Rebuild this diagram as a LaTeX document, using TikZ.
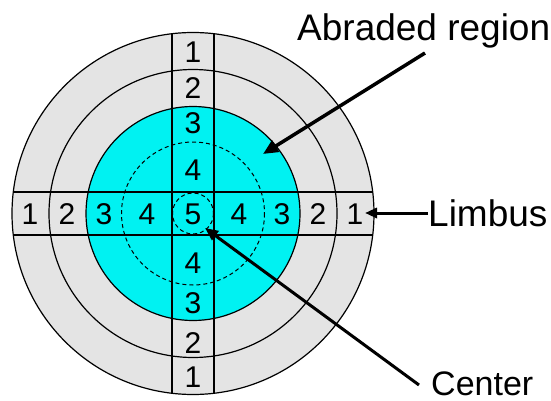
\documentclass[tikz,border=0pt]{standalone}
\usepackage{fontspec}
\setmainfont{Liberation Sans}
\usetikzlibrary{arrows.meta}
\definecolor{ringgray}{RGB}{228,228,228}
\definecolor{abrcyan}{RGB}{0,242,242}
\tikzset{
  ring/.style={draw=black, line width=1.2pt},
  dashring/.style={draw=black, line width=1pt, dash pattern=on 4pt off 3pt},
  num/.style={font=\fontsize{30}{32}\selectfont, inner sep=0pt, anchor=center},
  lbl/.style={font=\fontsize{37}{40}\selectfont, inner sep=0pt, anchor=base west, text depth=0pt},
  arr/.style={line width=3.5pt, -{Triangle[length=15pt,width=13pt]}},
}
\begin{document}
\begin{tikzpicture}[x=1pt,y=-1pt]
\useasboundingbox (0,0) rectangle (551,401);
\coordinate (c) at (193,213.5);
% rings
\fill[ringgray] (c) circle (181);
\draw[ring] (c) circle (144);
\fill[abrcyan] (c) circle (107);
\draw[ring] (c) circle (107);
\draw[dashring] (c) circle (71.5);
\draw[dashring] (c) circle (20.5);
% band lines clipped to outer circle
\begin{scope}
\clip (c) circle (181);
\draw[ring] (172,0) -- (172,401);
\draw[ring] (214,0) -- (214,401);
\draw[ring] (0,192) -- (400,192);
\draw[ring] (0,235) -- (400,235);
\end{scope}
\draw[ring] (c) circle (181);
% vertical numbers
\node[num] (v1) at (193,52) {1};
\node[num] (v2) at (193,88) {2};
\node[num] (v3) at (193,123) {3};
\node[num] (v4) at (193,170) {4};
\node[num] (v5) at (193,214) {5};
\node[num] (v6) at (193,263) {4};
\node[num] (v7) at (193,303) {3};
\node[num] (v8) at (193,343) {2};
\node[num] (v9) at (193,377) {1};
% horizontal numbers
\node[num] (h1) at (30,214) {1};
\node[num] (h2) at (67,214) {2};
\node[num] (h3) at (104,214) {3};
\node[num] (h4) at (147,214) {4};
\node[num] (h6) at (239,214) {4};
\node[num] (h7) at (282,214) {3};
\node[num] (h8) at (318,214) {2};
\node[num] (h9) at (355,214) {1};
% labels
\node[lbl] (abr) at (297,41) {Abraded region};
\node[lbl] (lim) at (428,226) {Limbus};
\node[lbl, font=\fontsize{34}{38}\selectfont] (cen) at (431,395) {Center};
% arrows
\coordinate (abrTail) at (425,53);
\coordinate (abrTip) at (263,154);
\coordinate (limTail) at (428,213);
\coordinate (limTip) at (365,213);
\coordinate (cenTail) at (419,385);
\coordinate (cenTip) at (205,228);
\draw[arr] (abrTail) -- (abrTip);
\draw[arr, line width=3pt, -{Triangle[length=12pt,width=10pt]}] (limTail) -- (limTip);
\draw[arr, line width=3pt, -{Triangle[length=13pt,width=11pt]}] (cenTail) -- (cenTip);
\end{tikzpicture}
\end{document}
